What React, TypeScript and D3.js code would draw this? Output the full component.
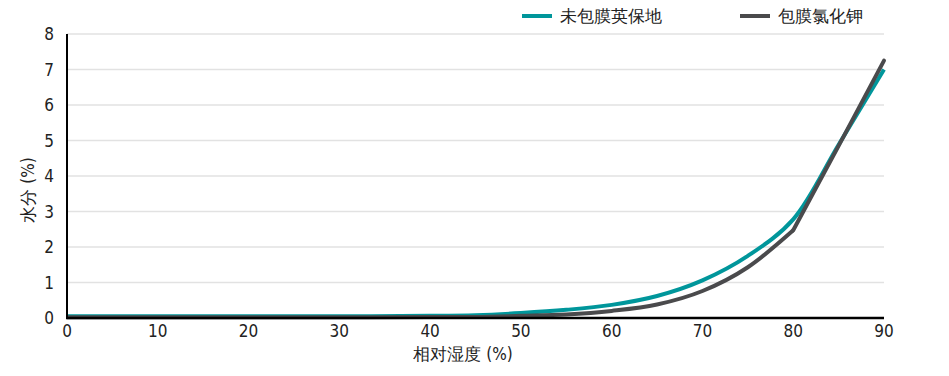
import React from "react";
import * as d3 from "d3";

const rhValues = [0, 10, 20, 30, 40, 45, 50, 55, 60, 65, 70, 75, 80, 85, 90];
const uncoated = [0.05, 0.05, 0.05, 0.05, 0.06, 0.08, 0.14, 0.23, 0.37, 0.62, 1.06, 1.75, 2.78, 4.88, 7.0];
const coated = [0.02, 0.02, 0.02, 0.02, 0.03, 0.03, 0.06, 0.1, 0.2, 0.38, 0.76, 1.43, 2.47, 4.85, 7.25];
const xTicks = [0, 10, 20, 30, 40, 50, 60, 70, 80, 90];
const yTicks = [0, 1, 2, 3, 4, 5, 6, 7, 8];
const seriesNames = ["未包膜英保地", "包膜氯化钾"];
const colors = ["#00969b", "#4a4a4c"];

const W = 949;
const H = 376;
const M = { left: 67, right: 65, top: 34, bottom: 58 };
const FONT = "'DejaVu Sans Condensed', 'DejaVu Sans', sans-serif";

export default function App() {
  const x = d3.scaleLinear().domain([0, 90]).range([M.left, W - M.right]);
  const y = d3.scaleLinear().domain([0, 8]).range([H - M.bottom, M.top]);

  const smooth = d3
    .line<[number, number]>()
    .x((d) => x(d[0]))
    .y((d) => y(d[1]))
    .curve(d3.curveMonotoneX);
  const round = d3
    .line<[number, number]>()
    .x((d) => x(d[0]))
    .y((d) => y(d[1]))
    .curve(d3.curveCatmullRom.alpha(0.5));
  const straight = d3
    .line<[number, number]>()
    .x((d) => x(d[0]))
    .y((d) => y(d[1]));

  const uPts: [number, number][] = rhValues.map((r, i) => [r, uncoated[i]]);
  const cPts: [number, number][] = rhValues.map((r, i) => [r, coated[i]]);
  const k = rhValues.indexOf(80);
  const cSmooth = cPts.slice(0, k + 1);
  const cLinear = cPts.slice(k);

  return (
    <svg width={W} height={H} style={{ display: "block", position: "absolute", left: 0, top: 0 }}>
      <rect width={W} height={H} fill="#fff" />
      {yTicks.slice(1).map((t) => (
        <line key={t} x1={x(0)} x2={x(90)} y1={y(t)} y2={y(t)} stroke="#e2e2e2" strokeWidth={1.5} />
      ))}
      <path d={round(uPts) || ""} fill="none" stroke={colors[0]} strokeWidth={4} strokeLinejoin="round" />
      <path d={smooth(cSmooth) || ""} fill="none" stroke={colors[1]} strokeWidth={4} strokeLinejoin="round" />
      <path d={straight(cLinear) || ""} fill="none" stroke={colors[1]} strokeWidth={4} strokeLinejoin="round" strokeLinecap="round" />
      <line x1={x(0)} x2={x(0)} y1={y(8)} y2={y(0) + 1} stroke="#000" strokeWidth={2} />
      <line x1={x(0) - 1} x2={x(90)} y1={y(0)} y2={y(0)} stroke="#000" strokeWidth={2.5} />
      {yTicks.map((t) => (
        <text key={t} x={54} y={y(t)} dy="0.36em" textAnchor="end" fontFamily={FONT} fontSize={17} fill="#222">
          {t}
        </text>
      ))}
      {xTicks.map((t) => (
        <text key={t} x={x(t)} y={337} textAnchor="middle" fontFamily={FONT} fontSize={17} fill="#222">
          {t}
        </text>
      ))}
      <text x={463} y={360} textAnchor="middle" fontFamily={FONT} fontSize={17} fill="#222">
        相对湿度 (%)
      </text>
      <text transform="translate(34,190) rotate(-90)" textAnchor="middle" fontFamily={FONT} fontSize={17} fill="#222">
        水分 (%)
      </text>
      {seriesNames.map((n, i) => {
        const lx = i === 0 ? 522 : 740;
        return (
          <g key={n}>
            <line x1={lx} x2={lx + 30} y1={16} y2={16} stroke={colors[i]} strokeWidth={4} />
            <text x={lx + 38} y={16} dy="0.36em" fontFamily={FONT} fontSize={17} fill="#222">
              {n}
            </text>
          </g>
        );
      })}
    </svg>
  );
}
